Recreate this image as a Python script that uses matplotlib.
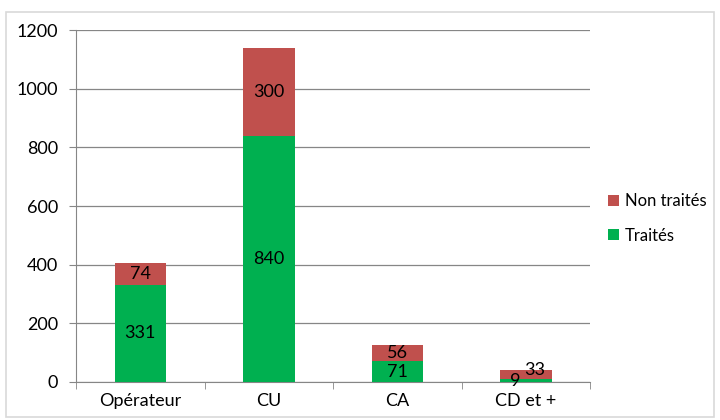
import matplotlib.pyplot as plt
from matplotlib.patches import Rectangle
import numpy as np

plt.rcParams['font.family'] = ['Lato', 'DejaVu Sans']

categories = ['Opérateur', 'CU', 'CA', 'CD et +']
traites = [331, 840, 71, 9]
non_traites = [74, 300, 56, 33]

green = '#00B050'
red = '#C0504D'
grey = '#868686'
fs = 13

fig = plt.figure(figsize=(7.2, 4.2), dpi=100)
fig.patches.append(Rectangle((0.008, 0.006), 0.984, 0.966, transform=fig.transFigure,
                             fill=False, edgecolor='#D9D9D9', linewidth=1.2))
ax = fig.add_axes([0.1056, 0.0905, 0.714, 0.838])

x = np.arange(len(categories))
w = 0.40
ax.bar(x, traites, w, color=green, label='Traités', zorder=3)
ax.bar(x, non_traites, w, bottom=traites, color=red, label='Non traités', zorder=3)

# the small last bar: labels pushed apart like Excel does
offs_t = [(0, 0), (0, 0), (0, 0), (-11, 0)]
offs_n = [(0, 0), (0, 0), (0, 0), (9, 5)]
for i in range(len(categories)):
    ax.annotate(str(traites[i]), (x[i], traites[i] / 2), xytext=offs_t[i], textcoords='offset pixels',
                ha='center', va='center', fontsize=fs, zorder=4)
    ax.annotate(str(non_traites[i]), (x[i], traites[i] + non_traites[i] / 2), xytext=offs_n[i],
                textcoords='offset pixels', ha='center', va='center', fontsize=fs, zorder=4)

ax.set_xlim(-0.5, len(categories) - 0.5)
ax.set_ylim(0, 1200)
ax.set_yticks(range(0, 1201, 200))
ax.yaxis.grid(True, color=grey, linewidth=0.9, zorder=0)
ax.set_xticks(x)
ax.set_xticklabels(categories, fontsize=fs)
ax.set_xticks(np.arange(-0.5, len(categories)), minor=True)
ax.tick_params(axis='x', which='major', length=0, pad=8)
ax.tick_params(axis='x', which='minor', length=5, color=grey)
ax.tick_params(axis='y', length=5, color=grey, labelsize=fs, pad=8)
for s in ['top', 'right']:
    ax.spines[s].set_visible(False)
for s in ['left', 'bottom']:
    ax.spines[s].set_color(grey)

handles, labels = ax.get_legend_handles_labels()
fig.legend(handles[::-1], labels[::-1], loc='center left', bbox_to_anchor=(0.835, 0.48),
           frameon=False, fontsize=12, handlelength=0.65, handleheight=0.65,
           handletextpad=0.35, labelspacing=1.1, borderpad=0.2, borderaxespad=0.2)

fig.savefig('out.png', dpi=100)
